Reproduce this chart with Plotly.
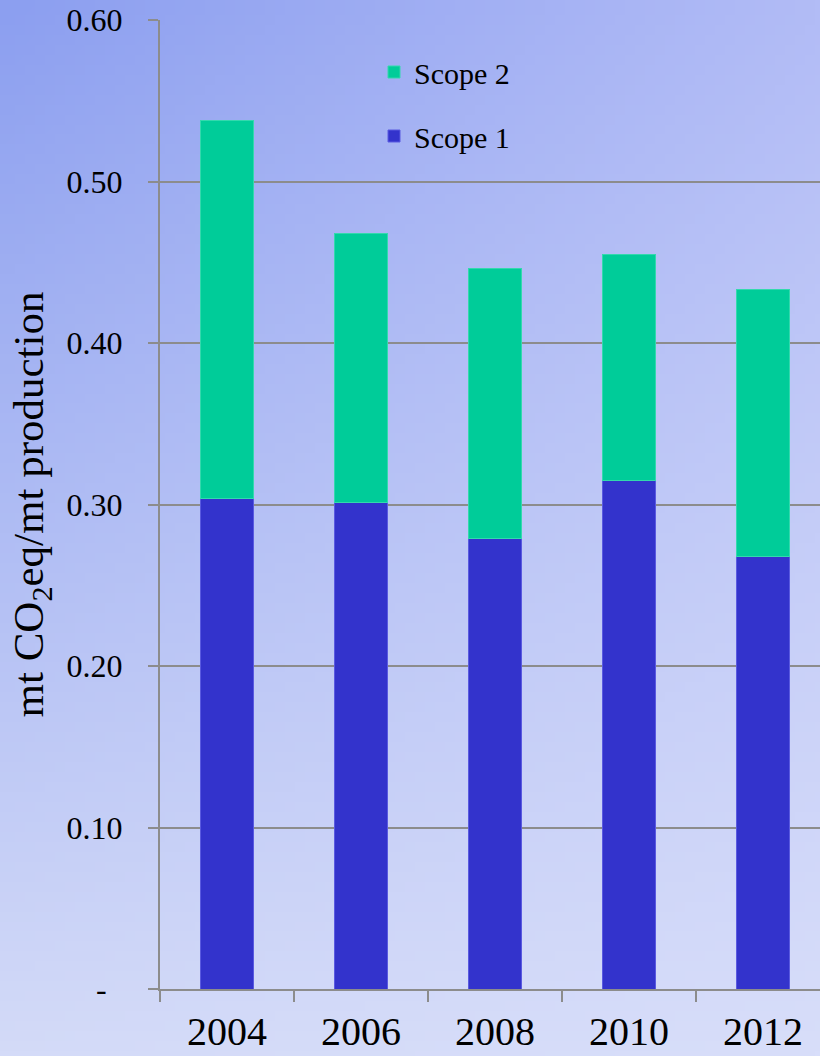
import base64
import struct
import zlib

import numpy as np
import plotly.graph_objects as go

# Emission intensity by year (mt CO2eq per mt production)
years = ["2004", "2006", "2008", "2010", "2012"]
scope1 = [0.304, 0.3015, 0.279, 0.315, 0.2675]
scope2 = [0.234, 0.1665, 0.167, 0.1399, 0.1658]

y_tickvals = [0.0, 0.1, 0.2, 0.3, 0.4, 0.5, 0.6]
y_ticktext = ["-\u00a0\u00a0", "0.10", "0.20", "0.30", "0.40", "0.50", "0.60"]

W, H = 820, 1056
ML, MR, MT, MB = 160, 0, 20, 67
FONT = "Liberation Serif, Times New Roman, serif"
GRID = "#8c8c8c"


def gradient_png(w, h, tl, tr, bl, br):
    """Bilinear four-corner colour gradient encoded as a PNG data URI."""
    tl, tr, bl, br = (np.array(c, dtype=float) for c in (tl, tr, bl, br))
    u = np.linspace(0, 1, w)[None, :, None]
    v = np.linspace(0, 1, h)[:, None, None]
    top = tl * (1 - u) + tr * u
    bot = bl * (1 - u) + br * u
    img = np.clip(top * (1 - v) + bot * v, 0, 255).astype(np.uint8)
    raw = b"".join(b"\x00" + row.tobytes() for row in img)

    def chunk(tag, data):
        return (struct.pack(">I", len(data)) + tag + data
                + struct.pack(">I", zlib.crc32(tag + data) & 0xFFFFFFFF))

    png = (b"\x89PNG\r\n\x1a\n"
           + chunk(b"IHDR", struct.pack(">IIBBBBB", w, h, 8, 2, 0, 0, 0))
           + chunk(b"IDAT", zlib.compress(raw, 9))
           + chunk(b"IEND", b""))
    return "data:image/png;base64," + base64.b64encode(png).decode()


bg = gradient_png(82, 106,
                  (140, 159, 240), (178, 188, 246),
                  (212, 219, 248), (216, 222, 250))

fig = go.Figure()
fig.add_trace(go.Bar(
    x=years, y=scope1, name="Scope 1", width=0.40,
    marker=dict(color="#3333cc", line=dict(color="#5a5ae0", width=1)),
    legendgroup="s1", legendrank=2,
))
fig.add_trace(go.Bar(
    x=years, y=scope2, name="Scope 2", width=0.40,
    marker=dict(color="#00cc99", line=dict(color="#33d9ad", width=1)),
    legendgroup="s2", legendrank=1,
))

pw = W - ML - MR
ph = H - MT - MB
fig.add_layout_image(dict(
    source=bg, xref="paper", yref="paper",
    x=-ML / pw, y=1 + MT / ph, sizex=W / pw, sizey=H / ph,
    xanchor="left", yanchor="top", sizing="stretch", layer="below",
))

fig.update_layout(
    width=W, height=H,
    margin=dict(l=ML, r=MR, t=MT, b=MB, pad=0, autoexpand=False),
    barmode="stack",
    paper_bgcolor="#b8c2f4",
    plot_bgcolor="rgba(0,0,0,0)",
    font=dict(family=FONT, color="black"),
    showlegend=True,
    legend=dict(
        x=(374 - ML) / pw, y=(H - MB - 46) / ph,
        xanchor="left", yanchor="top",
        bgcolor="rgba(0,0,0,0)", borderwidth=0,
        font=dict(family=FONT, size=30, color="black"),
        traceorder="grouped", tracegroupgap=22,
    ),
    xaxis=dict(
        type="category", range=[-0.5, 4.425],
        showline=True, linecolor=GRID, linewidth=2,
        ticks="outside", ticklen=11, tickwidth=2, tickcolor=GRID,
        tickson="boundaries", tickangle=0, automargin=False,
        tickfont=dict(family=FONT, size=40, color="black"),
        ticklabelstandoff=6,
        showgrid=False, zeroline=False,
    ),
    yaxis=dict(
        range=[0, 0.6], automargin=False,
        tickvals=y_tickvals, ticktext=y_ticktext,
        showline=True, linecolor=GRID, linewidth=2,
        ticks="outside", ticklen=10, tickwidth=2, tickcolor=GRID,
        showgrid=True, gridcolor=GRID, gridwidth=2,
        zeroline=False,
        tickfont=dict(family=FONT, size=32, color="black"),
        ticklabelstandoff=19,
        title=dict(text="mt CO<sub>2</sub>eq/mt production",
                   font=dict(family=FONT, size=43, color="black"),
                   standoff=10),
    ),
)

fig.write_html("out.html")
